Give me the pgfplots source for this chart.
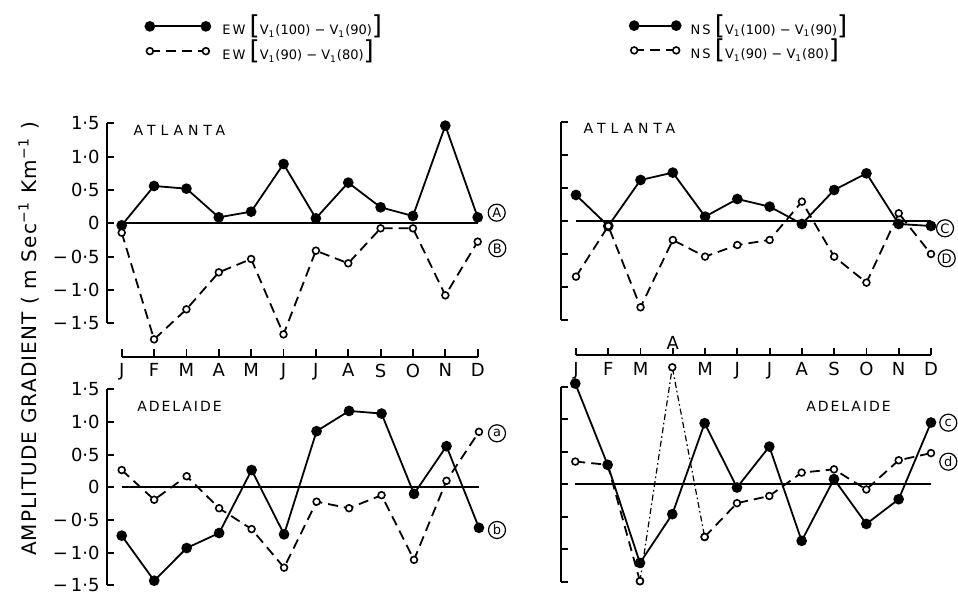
\documentclass[border=0pt]{standalone}
\usepackage{fontspec}
\setmainfont{DejaVu Sans}
\usepackage{pgfplots}
\pgfplotsset{compat=1.18}
\newcommand\bkt{\fontsize{13}{13}\selectfont}
\pgfplotsset{
  panel/.style={
    scale only axis, clip=false, anchor=south west,
    axis x line=bottom, axis y line=left,
    x axis line style={draw=none}, y axis line style={draw=none},
    tick align=inside, major tick length=3.8pt,
    tick style={black, line width=0.9pt},
    ytick={-1.5,-1,-0.5,0,0.5,1,1.5},
    xtick={0,...,11},
    ticklabel style={font=\fontsize{9}{9}\selectfont},
    legend cell align=left,
  },
  filled/.style={black, line width=0.9pt, mark=*, mark size=2.2pt, mark options={solid}},
  opened/.style={black, line width=0.9pt, dash pattern=on 5pt off 3pt, mark=*, mark size=1.7pt, mark options={solid, fill=white, line width=0.8pt}},
  zline/.style={black, line width=0.9pt, forget plot},
}
\begin{document}
\begin{tikzpicture}
\useasboundingbox (0,0) rectangle (479pt,296.5pt);
% ---------- top left: EW Atlanta
\begin{axis}[panel, at={(53.35pt,118.15pt)}, width=190.35pt, height=116.7pt,
  xmin=-0.4636, xmax=11.3, ymin=-2, ymax=1.5,
  yticklabels={\textrm{−\,1·5},\textrm{−\,1·0},\textrm{−\,0·5},\textrm{0},\textrm{0·5},\textrm{1·0},\textrm{1·5}},
  xticklabels={J,F,M,A,M,J,J,A,S,O,N,D},
  legend image code/.code={\draw[#1] plot coordinates {(0pt,0pt) (28pt,0pt)};},
  legend style={at={(rel axis cs:0.085,1.50)}, anchor=north west, draw=none, fill=none,
    font=\fontsize{6.5}{7}\selectfont, row sep=-3pt,
    /tikz/every odd column/.append style={column sep=4pt}},
]
\addplot[zline] coordinates {(0,0) (11,0)};
\addplot[filled] coordinates {(0,-0.03) (1,0.56) (2,0.52) (3,0.09) (4,0.175) (5,0.89) (6,0.075) (7,0.61) (8,0.24) (9,0.11) (10,1.465) (11,0.09)};
\addlegendentry{E\,W {\bkt[}V\textsubscript{1}(100) − V\textsubscript{1}(90){\bkt]}}
\addplot[opened] coordinates {(0,-0.14) (1,-1.74) (2,-1.29) (3,-0.735) (4,-0.535) (5,-1.665) (6,-0.41) (7,-0.60) (8,-0.075) (9,-0.075) (10,-1.08) (11,-0.275)};
\addlegendentry{E\,W {\bkt[}V\textsubscript{1}(90) − V\textsubscript{1}(80){\bkt]}}
\draw[line width=0.9pt] (axis cs:-0.4636,-1.5) -- (axis cs:-0.4636,1.5);
\draw[line width=0.9pt] (axis cs:0,-2) -- (axis cs:11,-2);
\end{axis}
% ---------- top right: NS Atlanta
\begin{axis}[panel, at={(280.35pt,118.9pt)}, width=189.98pt, height=116.45pt,
  xmin=-0.474, xmax=11.3, ymin=-2.04, ymax=1.5,
  yticklabels={}, 
  xticklabels={J,F,M,{},M,J,J,A,S,O,N,D},
  legend image code/.code={\draw[#1] plot coordinates {(0pt,0pt) (21pt,0pt)};},
  legend style={at={(rel axis cs:0.165,1.50)}, anchor=north west, draw=none, fill=none,
    font=\fontsize{6.5}{7}\selectfont, row sep=-3pt,
    /tikz/every odd column/.append style={column sep=3pt}},
]
\addplot[zline] coordinates {(0,0) (11,0)};
\addplot[filled] coordinates {(0,0.395) (1,-0.076) (2,0.623) (3,0.735) (4,0.066) (5,0.334) (6,0.218) (7,-0.046) (8,0.471) (9,0.724) (10,-0.046) (11,-0.076)};
\addlegendentry{N\,S {\bkt[}V\textsubscript{1}(100) − V\textsubscript{1}(90){\bkt]}}
\addplot[opened] coordinates {(0,-0.846) (1,-0.076) (2,-1.312) (3,-0.289) (4,-0.542) (5,-0.365) (6,-0.289) (7,0.294) (8,-0.542) (9,-0.937) (10,0.117) (11,-0.502)};
\addlegendentry{N\,S {\bkt[}V\textsubscript{1}(90) − V\textsubscript{1}(80){\bkt]}}
\draw[line width=0.9pt] (axis cs:-0.474,-1.5) -- (axis cs:-0.474,1.5);
\draw[line width=0.9pt] (axis cs:0,-2.04) -- (axis cs:11,-2.04);
\node[font=\fontsize{9}{9}\selectfont] at (axis cs:3,-1.86) {A};
\end{axis}
% ---------- bottom left: EW Adelaide
\begin{axis}[panel, at={(53.35pt,0.6pt)}, width=191pt, height=101.2pt,
  xmin=-0.462, xmax=11.3, ymin=-1.6, ymax=1.5,
  yticklabels={\textrm{−\,1·5},\textrm{−\,1·0},\textrm{−\,0·5},\textrm{0},\textrm{0·5},\textrm{1·0},\textrm{1·5}},
  xtick=\empty,
]
\addplot[zline] coordinates {(0,0) (11,0)};
\addplot[opened] coordinates {(0,0.265) (1,-0.19) (2,0.17) (3,-0.32) (4,-0.64) (5,-1.23) (6,-0.22) (7,-0.32) (8,-0.12) (9,-1.11) (10,0.10) (11,0.85)};
\addplot[filled] coordinates {(0,-0.74) (1,-1.43) (2,-0.93) (3,-0.70) (4,0.265) (5,-0.72) (6,0.86) (7,1.17) (8,1.13) (9,-0.10) (10,0.63) (11,-0.62)};
\draw[line width=0.9pt] (axis cs:-0.462,-1.5) -- (axis cs:-0.462,1.5);
\end{axis}
% ---------- bottom right: NS Adelaide
\begin{axis}[panel, at={(280.35pt,2.35pt)}, width=190pt, height=100.75pt,
  xmin=-0.451, xmax=11.3, ymin=-1.6, ymax=1.5,
  yticklabels={}, xtick=\empty,
]
\addplot[zline] coordinates {(0,0) (11,0)};
\addplot[opened] coordinates {(0,0.35) (1,0.30) (2,-1.49)};
\addplot[black, line width=0.6pt, dash pattern=on 3pt off 1.5pt on 0.8pt off 1.5pt, mark=*, mark size=1.7pt, mark options={solid, fill=white, line width=0.8pt}] coordinates {(2,-1.49) (3,1.80) (4,-0.81)};
\addplot[opened] coordinates {(4,-0.81) (5,-0.29) (6,-0.18) (7,0.18) (8,0.23) (9,-0.08) (10,0.37) (11,0.48)};
\addplot[filled] coordinates {(0,1.55) (1,0.30) (2,-1.21) (3,-0.46) (4,0.94) (5,-0.05) (6,0.58) (7,-0.87) (8,0.08) (9,-0.61) (10,-0.23) (11,0.95)};
\draw[line width=0.9pt] (axis cs:-0.451,-1.5) -- (axis cs:-0.451,1.5);
\end{axis}
% ---------- titles and annotations
\node[font=\fontsize{7}{7}\selectfont\addfontfeature{LetterSpace=35}] at (89.75pt,231.5pt) {ATLANTA};
\node[font=\fontsize{7}{7}\selectfont\addfontfeature{LetterSpace=35}] at (314.75pt,232.5pt) {ATLANTA};
\node[font=\fontsize{7}{7}\selectfont\addfontfeature{LetterSpace=14}] at (89.75pt,93.15pt) {ADELAIDE};
\node[font=\fontsize{7}{7}\selectfont\addfontfeature{LetterSpace=14}] at (424.25pt,93.15pt) {ADELAIDE};
\tikzset{circ/.style={draw, circle, line width=0.6pt, inner sep=0pt, minimum size=8.5pt, font=\fontsize{6.5}{6.5}\selectfont}}
\node[circ] at (248.35pt,190.15pt) {A};
\node[circ] at (248.65pt,172.35pt) {B};
\node[circ] at (472.5pt,182.35pt) {C};
\node[circ] at (473.35pt,167.35pt) {D};
\node[circ] at (248.5pt,79.85pt) {a};
\node[circ] at (248.5pt,31.5pt) {b};
\node[circ] at (474.15pt,85.15pt) {c};
\node[circ] at (474.15pt,65.65pt) {d};
\node[rotate=90, anchor=base, font=\fontsize{10}{10}\selectfont\addfontfeature{LetterSpace=6}] at (18pt,127pt)
  {AMPLITUDE GRADIENT ( m Sec\textsuperscript{−1} Km\textsuperscript{−1} )};
\end{tikzpicture}
\end{document}
